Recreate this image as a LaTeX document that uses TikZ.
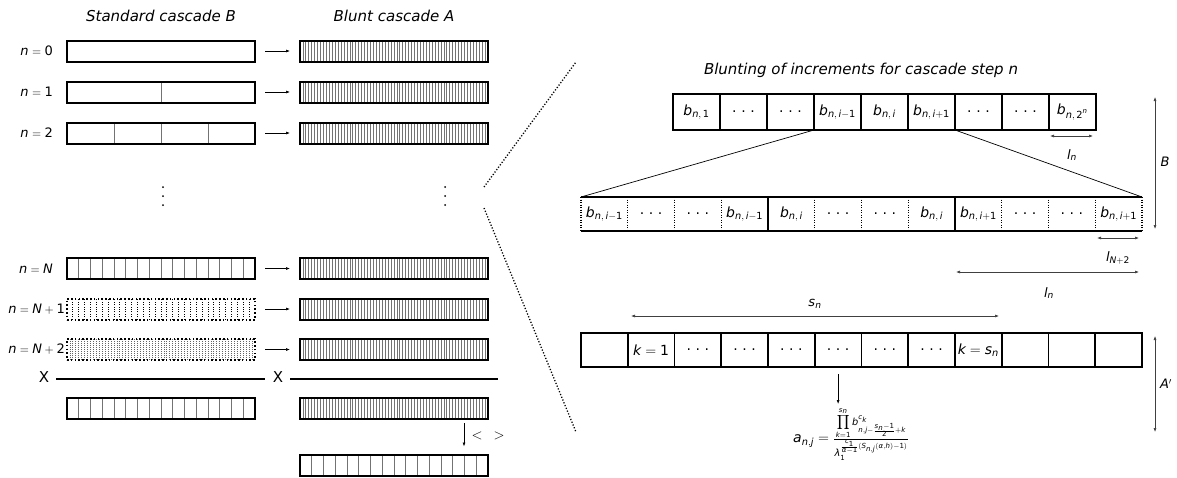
\documentclass[tikz,border=0pt]{standalone}
\usepackage{mathspec}
\setmainfont{DejaVu Sans}
\setmathsfont(Digits,Latin,Greek){DejaVu Sans}
\usetikzlibrary{calc,arrows.meta}
\newcommand{\sdots}{.\hspace{0.33em}.\hspace{0.33em}.}
\newcommand{\bigprod}{\mathop{\hbox{\fontsize{11}{11}\selectfont$\displaystyle\prod$}}}
\tikzset{
  bar/.style={draw=black, line width=2pt, minimum width=188pt, minimum height=21pt, inner sep=0pt, outer sep=0pt},
  sepline/.style={draw=black!55, line width=0.9pt},
  hatchline/.style={draw=black!55, line width=0.8pt},
  dotsep/.style={draw=black, line width=0.9pt, dash pattern=on 1pt off 1.4pt},
  dotsepgray/.style={draw=black!60, line width=0.8pt, dash pattern=on 0.9pt off 1.1pt},
  dotborder/.style={dash pattern=on 1.6pt off 2.2pt},
  divs/.style 2 args={path picture={
      \pgfmathtruncatemacro{\nlast}{#1-1}
      \foreach \k in {1,...,\nlast}{
        \path[#2] ($(path picture bounding box.south west)!{\k/#1}!(path picture bounding box.south east)$) -- ($(path picture bounding box.north west)!{\k/#1}!(path picture bounding box.north east)$);
      }}},
  tip/.tip={Latex[length=4pt,width=3pt]},
  flow/.style={-tip, line width=0.6pt, shorten <=10pt, shorten >=10pt},
  arr/.style={-tip, line width=0.6pt},
  dim/.style={tip-tip, line width=0.6pt, draw=black!75},
  lab/.style={font=\fontsize{13}{15}\selectfont, inner sep=0pt},
  big/.style={font=\fontsize{15}{17}\selectfont, inner sep=0pt},
  ttl/.style={font=\fontsize{15}{17}\selectfont\itshape, inner sep=0pt},
  cell/.style={draw=black, line width=1.8pt, minimum width=47pt, minimum height=36pt, inner sep=0pt, outer sep=0pt, font=\fontsize{14}{16}\selectfont},
  mcell/.style={minimum width=46.75pt, minimum height=34pt, inner sep=0pt, outer sep=0pt, font=\fontsize{14}{16}\selectfont},
  kcell/.style={draw=black, line width=1.6pt, minimum width=46.75pt, minimum height=34pt, inner sep=0pt, outer sep=0pt, font=\fontsize{14}{16}\selectfont},
  thickrule/.style={line width=2pt},
  enddots/.style={draw=black, line width=1.2pt, dash pattern=on 1pt off 1.5pt},
  zoomline/.style={line width=1.3pt, dash pattern=on 1.2pt off 1.8pt},
  vdot/.style={circle, fill=black, inner sep=0pt, minimum size=2pt},
}
\begin{document}
\begin{tikzpicture}[x=1pt,y=-1pt]
\useasboundingbox (0,0) rectangle (1177,477);

% ---------- left part ----------
\node[ttl] (tB) at (161,16) {Standard cascade B};
\node[ttl] (tA) at (394,16) {Blunt cascade A};

\node[lab,anchor=east] (n0) at (53,51) {$n=0$};
\node[bar] (b0) at (161,51) {};
\node[bar,divs={64}{hatchline}] (a0) at (394,51) {};
\draw[flow] (b0) -- (a0);

\node[lab,anchor=east] (n1) at (53,92) {$n=1$};
\node[bar,divs={2}{sepline}] (b1) at (161,92) {};
\node[bar,divs={64}{hatchline}] (a1) at (394,92) {};
\draw[flow] (b1) -- (a1);

\node[lab,anchor=east] (n2) at (53,133) {$n=2$};
\node[bar,divs={4}{sepline}] (b2) at (161,133) {};
\node[bar,divs={64}{hatchline}] (a2) at (394,133) {};
\draw[flow] (b2) -- (a2);

\foreach \yy [count=\j] in {187,196,205}{
  \node[vdot] (vl\j) at (163,\yy) {};
  \node[vdot] (vr\j) at (445,\yy) {};
}

\node[lab,anchor=east] (nN) at (53,268.5) {$n=N$};
\node[bar,divs={16}{sepline}] (bN) at (161,268.5) {};
\node[bar,divs={64}{hatchline}] (aN) at (394,268.5) {};
\draw[flow] (bN) -- (aN);

\node[lab,anchor=east] (nN1) at (65,309) {$n=N+1$};
\node[bar,dotborder,divs={32}{dotsep}] (bN1) at (161,309) {};
\node[bar,divs={64}{hatchline}] (aN1) at (394,309) {};
\draw[flow] (bN1) -- (aN1);

\node[lab,anchor=east] (nN2) at (65,349.5) {$n=N+2$};
\node[bar,dotborder,divs={64}{dotsepgray}] (bN2) at (161,349.5) {};
\node[bar,divs={64}{hatchline}] (aN2) at (394,349.5) {};
\draw[flow] (bN2) -- (aN2);

\node[big] (x1) at (44,377) {X};
\node[big] (x2) at (278,377) {X};
\coordinate (xend) at (498,379);
\draw[thickrule] ($(x1.east)+(7,2)$) -- ($(x2.west)+(-8,2)$);
\draw[thickrule] ($(x2.east)+(7,2)$) -- (xend);

\node[bar,divs={16}{sepline}] (bB) at (161,408.5) {};
\node[bar,divs={64}{hatchline}] (aB) at (394,408.5) {};
\node[bar,divs={16}{sepline}] (aC) at (394,465) {};
\coordinate (d1) at (464,423);
\draw[arr] (d1) -- (d1 |- aC.north) [shorten >=8pt];
\node[big] (lt) at (477,436) {$<$};
\node[big] (gt) at (499,436) {$>$};

\coordinate (z1a) at (484,187);
\coordinate (z1b) at (576,62);
\coordinate (z2a) at (484,208);
\coordinate (z2b) at (576,432);
\draw[zoomline] (z1a) -- (z1b);
\draw[zoomline] (z2a) -- (z2b);

% ---------- right part ----------
\node[ttl] (tR) at (861,70) {Blunting of increments for cascade step n};

\foreach \i/\t in {1/{$b_{n,\,1}$},2/{\sdots},3/{\sdots},4/{$b_{n,\,i-1}$},5/{$b_{n,\,i}$},6/{$b_{n,\,i+1}$},7/{\sdots},8/{\sdots},9/{$b_{n,\,2^n}$}}{
  \node[cell] (t\i) at ({673+47*(\i-0.5)},112) {\t};
}

\foreach \i/\t in {1/{$b_{n,\,i-1}$},2/{\sdots},3/{\sdots},4/{$b_{n,\,i-1}$},5/{$b_{n,\,i}$},6/{\sdots},7/{\sdots},8/{$b_{n,\,i}$},9/{$b_{n,\,i+1}$},10/{\sdots},11/{\sdots},12/{$b_{n,\,i+1}$}}{
  \node[mcell] (m\i) at ({581+46.75*(\i-0.5)},214) {\t};
}
\draw[thickrule] (m1.north west) -- (m12.north east);
\draw[thickrule] (m1.south west) -- (m12.south east);
\draw[enddots] (m1.north west) -- (m1.south west);
\draw[enddots] (m12.north east) -- (m12.south east);
\foreach \i in {1,2,3,5,6,7,9,10,11}{
  \draw[enddots] (m\i.north east) -- (m\i.south east);
}
\draw[thickrule] (m4.north east) -- (m4.south east);
\draw[thickrule] (m8.north east) -- (m8.south east);

\draw[line width=0.7pt] (t4.south west) -- (m1.north west);
\draw[line width=0.7pt] (t6.south east) -- (m12.north east);

\foreach \i/\t in {1/{},2/{$k=1$},3/{\sdots},4/{\sdots},5/{\sdots},6/{\sdots},7/{\sdots},8/{\sdots},9/{$k=s_n$},10/{},11/{},12/{}}{
  \node[kcell] (k\i) at ({581+46.75*(\i-0.5)},350) {\t};
}

% dimension arrows
\coordinate (ln1a) at (1050,136); \coordinate (ln1b) at (1093,136);
\draw[dim] (ln1a) -- (ln1b);
\node[lab] (ln1) at (1072,155) {$l_n$};

\coordinate (lNa) at (1097,238); \coordinate (lNb) at (1139,238);
\draw[dim] (lNa) -- (lNb);
\node[lab] (lN) at (1118,258) {$l_{N+2}$};

\coordinate (ln2a) at (956,272); \coordinate (ln2b) at (1139,272);
\draw[dim] (ln2a) -- (ln2b);
\node[lab] (ln2) at (1049,293) {$l_n$};

\coordinate (sna) at (631,316); \coordinate (snb) at (999,316);
\draw[dim] (sna) -- (snb);
\node[lab] (sn) at (815,304) {$s_n$};

\coordinate (Ba) at (1155,97); \coordinate (Bb) at (1155,229);
\draw[dim] (Ba) -- (Bb);
\node[lab] (Bl) at (1165,162) {$B$};

\coordinate (Aa) at (1155,336); \coordinate (Ab) at (1155,432);
\draw[dim] (Aa) -- (Ab);
\node[lab] (Al) at (1166,384) {$A'$};

\node[font=\fontsize{14}{16}\selectfont, inner sep=0pt, anchor=north] (f) at (851,407) {$a_{n,j}=\frac{\bigprod\limits_{k=1}^{s_n} b^{c_k}_{n,j-\frac{s_n-1}{2}+k}}{\lambda_1^{\frac{c_1}{\alpha-1}(S_{n,j}(\alpha,h)-1)}}$};
\draw[arr] ($(k6.south)+(0,7)$) -- ($(k6.south)+(0,37)$);
\end{tikzpicture}
\end{document}
